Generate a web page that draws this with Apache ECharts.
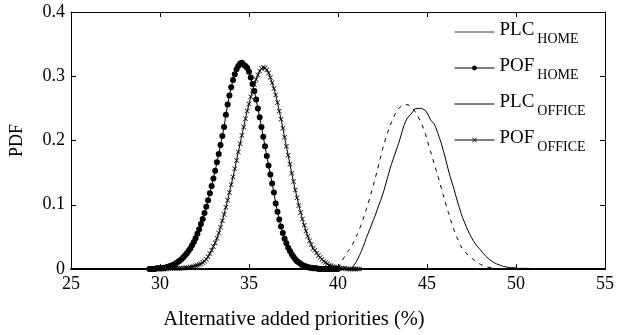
<!DOCTYPE html>
<html>
<head>
<meta charset="utf-8">
<script src="https://cdn.jsdelivr.net/npm/echarts@6/dist/echarts.min.js"></script>
<style>html,body{margin:0;padding:0;background:#fff}#c{width:617px;height:335px}</style>
</head>
<body>
<div id="c"></div>
<script>
// Sample grids (start, step) for each empirical PDF curve
const pofHomeStart = 29.4, pofOfficeStart = 29.5, plcHomeStart = 40.0, plcOfficeStart = 40.8, gridStep = 0.1;

const pofHome = [
0.000,0.000,0.000,0.000,0.001,0.001,0.001,0.001,0.002,0.002,
0.003,0.004,0.005,0.006,0.007,0.009,0.011,0.013,0.015,0.018,
0.021,0.024,0.028,0.032,0.037,0.042,0.048,0.055,0.062,0.070,
0.078,0.087,0.097,0.107,0.118,0.129,0.141,0.153,0.166,0.179,
0.193,0.207,0.221,0.240,0.256,0.270,0.283,0.294,0.303,0.311,
0.316,0.320,0.321,0.318,0.316,0.313,0.307,0.298,0.288,0.277,
0.264,0.250,0.236,0.221,0.206,0.191,0.176,0.161,0.147,0.133,
0.119,0.102,0.089,0.077,0.066,0.056,0.047,0.040,0.033,0.028,
0.023,0.019,0.015,0.012,0.010,0.008,0.006,0.005,0.004,0.003,
0.002,0.002,0.001,0.001,0.001,0.000,0.000,0.000,0.000,0.000,
0.000,0.000,0.000,0.000,0.000,0.000,0.000
];

const pofOffice = [
0.000,0.000,0.000,0.000,0.000,0.000,0.000,0.000,0.000,0.000,
0.001,0.001,0.001,0.001,0.001,0.001,0.001,0.001,0.001,0.002,
0.002,0.002,0.003,0.003,0.004,0.005,0.006,0.007,0.008,0.010,
0.012,0.015,0.019,0.024,0.029,0.035,0.041,0.048,0.056,0.065,
0.075,0.085,0.096,0.107,0.119,0.131,0.143,0.156,0.169,0.182,
0.195,0.208,0.221,0.234,0.246,0.257,0.268,0.278,0.287,0.295,
0.302,0.308,0.312,0.314,0.313,0.310,0.305,0.298,0.290,0.281,
0.271,0.259,0.246,0.233,0.219,0.205,0.191,0.177,0.163,0.149,
0.136,0.123,0.111,0.099,0.088,0.078,0.068,0.059,0.051,0.044,
0.038,0.032,0.029,0.025,0.021,0.018,0.015,0.012,0.010,0.008,
0.006,0.005,0.004,0.003,0.002,0.002,0.001,0.001,0.001,0.001,
0.000,0.000,0.000,0.000,0.000,0.000,0.000,0.000
];

const plcHome = [
0.002,0.006,0.011,0.016,0.021,0.025,0.029,0.033,0.038,0.043,
0.049,0.055,0.062,0.069,0.077,0.085,0.094,0.103,0.112,0.122,
0.132,0.142,0.153,0.164,0.175,0.186,0.196,0.205,0.213,0.221,
0.228,0.235,0.241,0.246,0.250,0.252,0.254,0.255,0.256,0.256,
0.255,0.253,0.250,0.246,0.242,0.237,0.232,0.226,0.219,0.211,
0.202,0.192,0.183,0.174,0.164,0.155,0.146,0.136,0.126,0.116,
0.106,0.097,0.088,0.079,0.070,0.062,0.055,0.048,0.042,0.036,
0.031,0.028,0.025,0.022,0.019,0.017,0.015,0.013,0.011,0.009,
0.007,0.006,0.005,0.004,0.003,0.002,0.002,0.001,0.001,0.001,
0.000
];

const plcOffice = [
0.002,0.005,0.010,0.015,0.021,0.027,0.034,0.041,0.049,0.056,
0.063,0.070,0.077,0.084,0.092,0.100,0.107,0.115,0.124,0.134,
0.144,0.154,0.163,0.171,0.179,0.187,0.195,0.204,0.214,0.223,
0.230,0.235,0.238,0.241,0.245,0.249,0.251,0.250,0.249,0.250,
0.249,0.247,0.243,0.238,0.232,0.230,0.226,0.220,0.212,0.204,
0.196,0.186,0.176,0.165,0.154,0.144,0.135,0.126,0.116,0.106,
0.097,0.088,0.080,0.073,0.066,0.060,0.054,0.049,0.044,0.040,
0.036,0.033,0.030,0.026,0.023,0.020,0.018,0.015,0.013,0.011,
0.009,0.008,0.007,0.006,0.005,0.004,0.004,0.003,0.003,0.002,
0.002,0.002,0.001,0.001,0.001,0.001,0.001,0.001,0.000,0.001,
0.000,0.000,0.000,0.000,0.000,0.000,0.000,0.000
];

const xTicks = [25, 30, 35, 40, 45, 50, 55];
const yTicks = [0, 0.1, 0.2, 0.3, 0.4];
const seriesNames = ['PLC_HOME', 'POF_HOME', 'PLC_OFFICE', 'POF_OFFICE'];

function pairs(start, ys) {
  return ys.map((y, i) => [+(start + i * gridStep).toFixed(2), y]);
}

const FONT = 'Liberation Serif';
const crossPath = 'path://M0,1L1,0L5,4L9,0L10,1L6,5L10,9L9,10L5,6L1,10L0,9L4,5Z';
const hidden = 'rgba(0,0,0,0)';

const chart = echarts.init(document.getElementById('c'), null, {renderer: 'canvas'});

function axisStyle(w) {
  return {
    axisLine: {show: true, onZero: false, lineStyle: {color: '#000', width: w}},
    axisTick: {show: true, inside: true, length: 5, lineStyle: {color: '#000', width: 1}},
    splitLine: {show: false}
  };
}

chart.setOption({
  animation: false,
  backgroundColor: '#fff',
  grid: {left: 67, right: 10, top: 12, bottom: 65, containLabel: false},
  xAxis: [
    Object.assign({
      type: 'value', min: xTicks[0], max: xTicks[xTicks.length - 1], interval: 5,
      position: 'bottom',
      axisLabel: {color: '#000', fontFamily: FONT, fontSize: 18, margin: 6},
      name: 'Alternative added priorities (%)', nameLocation: 'middle', nameGap: 40,
      nameTextStyle: {color: '#000', fontFamily: FONT, fontSize: 20.5, padding: [0, 88, 0, 0]}
    }, axisStyle(2)),
    Object.assign({
      type: 'value', min: xTicks[0], max: xTicks[xTicks.length - 1], interval: 5,
      position: 'top', axisLabel: {show: false}
    }, axisStyle(1))
  ],
  yAxis: [
    Object.assign({
      type: 'value', min: yTicks[0], max: yTicks[yTicks.length - 1], interval: 0.1,
      position: 'left',
      axisLabel: {color: '#000', fontFamily: FONT, fontSize: 18, margin: 6},
      name: 'PDF', nameLocation: 'middle', nameGap: 45, nameRotate: 90,
      nameTextStyle: {color: '#000', fontFamily: FONT, fontSize: 18}
    }, axisStyle(1)),
    Object.assign({
      type: 'value', min: yTicks[0], max: yTicks[yTicks.length - 1], interval: 0.1,
      position: 'right', axisLabel: {show: false}
    }, axisStyle(1))
  ],
  legend: {
    left: 454, top: 18, orient: 'vertical', itemWidth: 40, itemHeight: 6, itemGap: 8,
    padding: 0,
    data: [
      {name: 'PLC_HOME', lineStyle: {type: 'solid', color: '#3a3a3a', width: 1},
       itemStyle: {color: hidden, borderColor: hidden, borderWidth: 0}},
      {name: 'POF_HOME', lineStyle: {width: 1}},
      {name: 'PLC_OFFICE', lineStyle: {type: 'solid', color: '#000', width: 1},
       itemStyle: {color: hidden, borderColor: hidden, borderWidth: 0}},
      {name: 'POF_OFFICE', lineStyle: {width: 1}}
    ],
    formatter: function (name) {
      const p = name.split('_');
      return '{m|' + p[0] + '}{s|' + p[1] + '}';
    },
    textStyle: {
      color: '#000', fontFamily: FONT,
      rich: {
        m: {fontSize: 19, fontFamily: FONT, color: '#000', lineHeight: 22, verticalAlign: 'top'},
        s: {fontSize: 14, fontFamily: FONT, color: '#000', lineHeight: 16, padding: [14, 0, 0, 3]}
      }
    }
  },
  series: [
    {
      name: seriesNames[0], type: 'line', data: pairs(plcHomeStart, plcHome),
      symbol: 'none', lineStyle: {color: '#000', width: 1, type: [4, 5]}, itemStyle: {color: '#000'}
    },
    {
      name: seriesNames[1], type: 'line', data: pairs(pofHomeStart, pofHome),
      symbol: 'circle', symbolSize: 6, showAllSymbol: true,
      lineStyle: {color: '#000', width: 1}, itemStyle: {color: '#000'}
    },
    {
      name: seriesNames[2], type: 'line', data: pairs(plcOfficeStart, plcOffice),
      symbol: 'none', lineStyle: {color: '#000', width: 1}, itemStyle: {color: '#000'}
    },
    {
      name: seriesNames[3], type: 'line', data: pairs(pofOfficeStart, pofOffice),
      symbol: crossPath, symbolSize: 5, showAllSymbol: true,
      lineStyle: {color: '#000', width: 1}, itemStyle: {color: '#000'}
    }
  ]
});
</script>
</body>
</html>
